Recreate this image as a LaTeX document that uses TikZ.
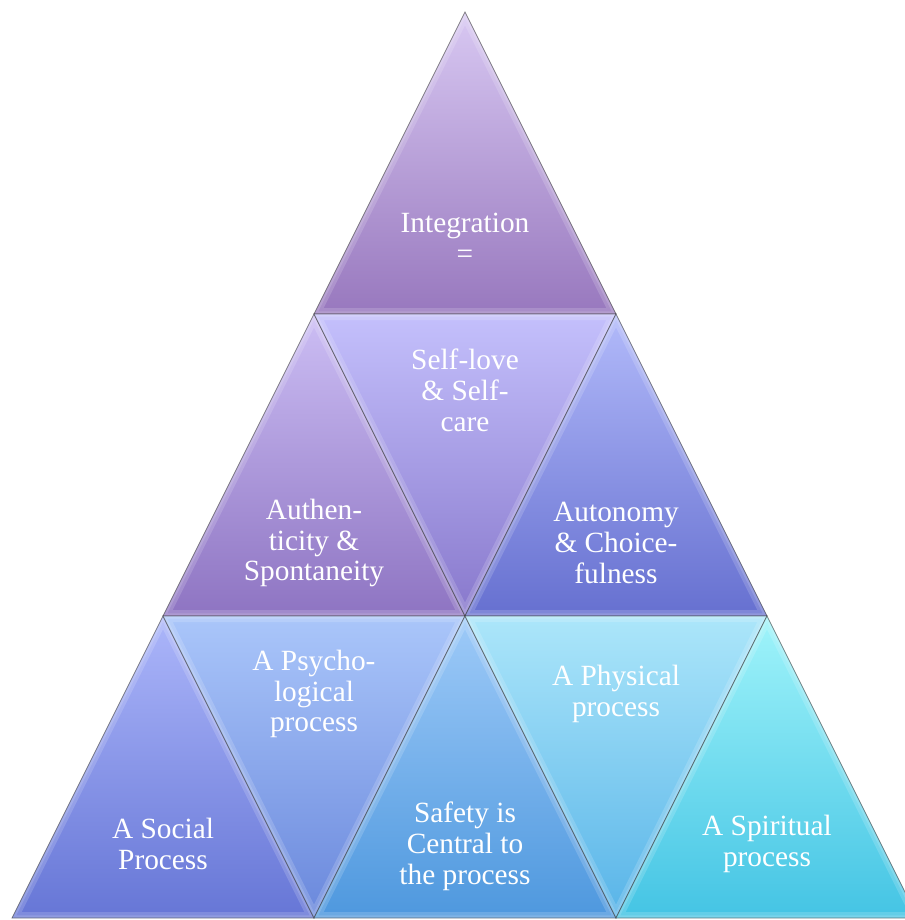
\documentclass[tikz,border=0pt]{standalone}
\usepackage{fontspec}
\setmainfont{Liberation Serif}
\begin{document}
\begin{tikzpicture}[x=0.75pt,y=-0.75pt,
  label/.style={text=white,align=center,font=\fontsize{22}{23.2}\selectfont,inner sep=0pt},
  edge/.style={draw=black!55!gray,draw opacity=0.6,line width=0.6pt}]
% page frame
\useasboundingbox (0,0) rectangle (905,920);
\clip (0,0) rectangle (905,920);
% lattice points: row k, position j
\foreach \k in {0,...,3}{
  \foreach \j in {0,...,\k}{
    \coordinate (p\k\j) at ({465-151*\k+302*\j},{12+302*\k});
  }
}
% colours of the facets (top, bottom)
\definecolor{intT}{HTML}{D8C8F2}\definecolor{intB}{HTML}{9878BE}
\definecolor{autT}{HTML}{CCBEF4}\definecolor{autB}{HTML}{8E74C2}
\definecolor{slfT}{HTML}{C4C0FC}\definecolor{slfB}{HTML}{8878CC}
\definecolor{aucT}{HTML}{B2BAFA}\definecolor{aucB}{HTML}{6670D0}
\definecolor{socT}{HTML}{ACB6FA}\definecolor{socB}{HTML}{6676D6}
\definecolor{psyT}{HTML}{AAC6FA}\definecolor{psyB}{HTML}{6A88DC}
\definecolor{safT}{HTML}{9ECAF8}\definecolor{safB}{HTML}{4E98DE}
\definecolor{phyT}{HTML}{ACE6FA}\definecolor{phyB}{HTML}{58B4E8}
\definecolor{spiT}{HTML}{A0F4FA}\definecolor{spiB}{HTML}{44C4E4}
% one bevelled facet: three corners, top colour, bottom colour
\newcommand\facet[5]{%
  \shade[top color=#4,bottom color=#5] (#1) -- (#2) -- (#3) -- cycle;
  \begin{scope}
    \clip (#1) -- (#2) -- (#3) -- cycle;
    \draw[white,opacity=0.16,line width=9pt,line join=miter] (#1) -- (#2) -- (#3) -- cycle;
    \draw[white,opacity=0.14,line width=4pt,line join=miter] (#1) -- (#2) -- (#3) -- cycle;
  \end{scope}
  \draw[edge,line join=miter] (#1) -- (#2) -- (#3) -- cycle;
}
% top row
\facet{p00}{p10}{p11}{intT}{intB}
% middle row
\facet{p10}{p20}{p21}{autT}{autB}
\facet{p10}{p11}{p21}{slfT}{slfB}
\facet{p11}{p21}{p22}{aucT}{aucB}
% bottom row
\facet{p20}{p30}{p31}{socT}{socB}
\facet{p20}{p21}{p31}{psyT}{psyB}
\facet{p21}{p31}{p32}{safT}{safB}
\facet{p21}{p22}{p32}{phyT}{phyB}
\facet{p22}{p32}{p33}{spiT}{spiB}
% labels
\node[label] (integ) at (465,238) {Integration\\=};
\node[label] (selflove) at (465,390) {Self-love\\\& Self-\\care};
\node[label] (authen) at (314,543) {Authen-\\ticity \&\\Spontaneity};
\node[label] (autono) at (616,543) {Autonomy\\\& Choice-\\fulness};
\node[label] (psycho) at (314,694) {A Psycho-\\logical\\process};
\node[label] (physic) at (616,694) {A Physical\\process};
\node[label] (social) at (163,844) {A Social\\Process};
\node[label] (safety) at (465,846) {Safety is\\Central to\\the process};
\node[label] (spirit) at (767,844) {A Spiritual\\process};
\end{tikzpicture}
\end{document}
